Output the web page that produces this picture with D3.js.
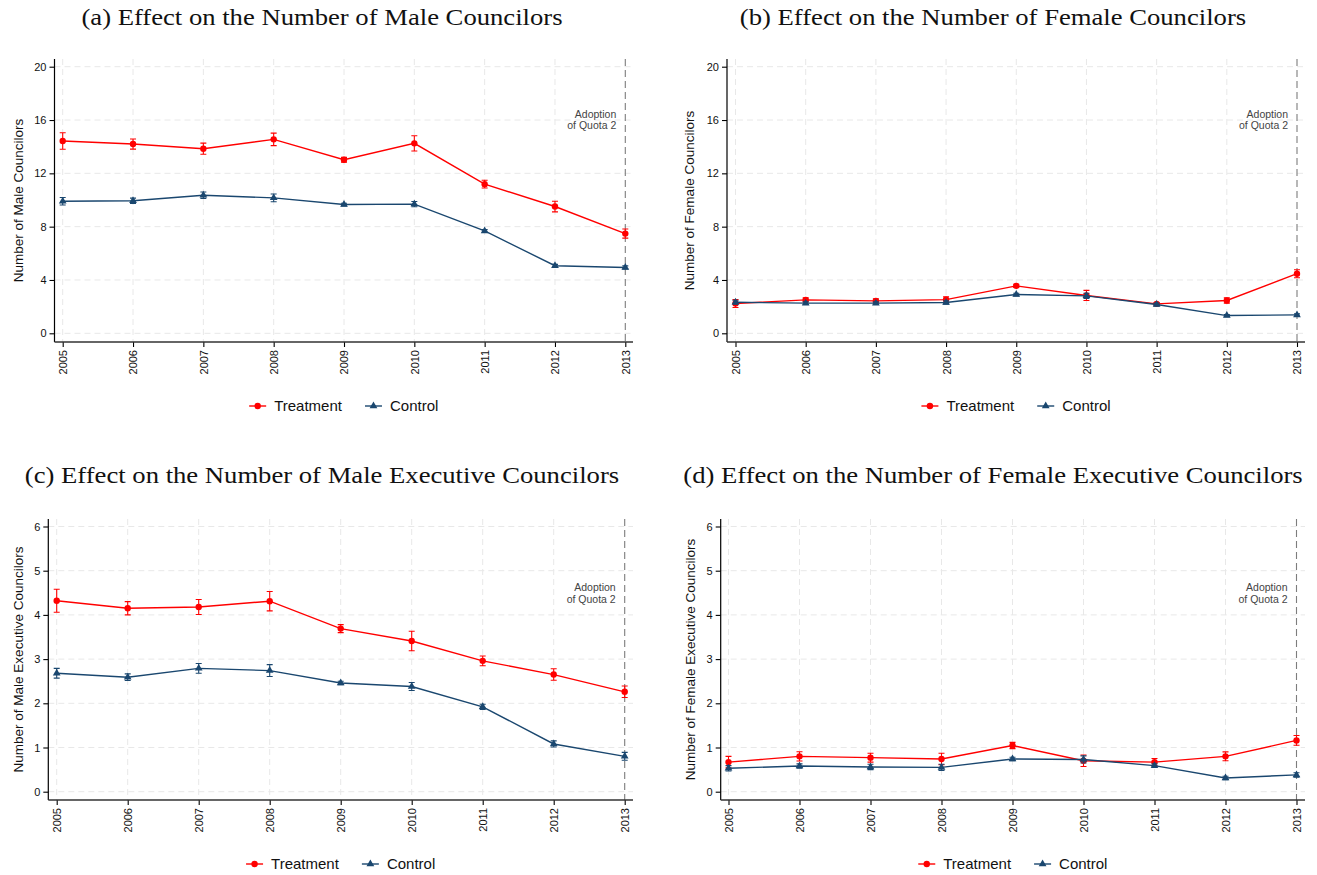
<!DOCTYPE html>
<html>
<head>
<meta charset="utf-8">
<script src="https://cdn.jsdelivr.net/npm/d3@7/dist/d3.min.js"></script>
<style>
  body { margin: 0; background: #ffffff; }
  svg { display: block; }
</style>
</head>
<body>
<svg id="chart" width="1317" height="875"></svg>
<script>
// ---- data -------------------------------------------------------------
const years = [2005, 2006, 2007, 2008, 2009, 2010, 2011, 2012, 2013];

// (a) male councilors: mean and half-width of the confidence interval
const maleTreat     = [14.43, 14.20, 13.85, 14.55, 13.02, 14.25, 11.19, 9.51, 7.48];
const maleTreatCI   = [0.62, 0.38, 0.42, 0.47, 0.18, 0.57, 0.29, 0.40, 0.34];
const maleControl   = [9.91, 9.94, 10.36, 10.16, 9.66, 9.69, 7.68, 5.07, 4.94];
const maleControlCI = [0.28, 0.20, 0.24, 0.29, 0.10, 0.20, 0.10, 0.10, 0.12];

// (b) female councilors
const femTreat      = [2.23, 2.51, 2.43, 2.53, 3.56, 2.84, 2.21, 2.46, 4.47];
const femTreatCI    = [0.30, 0.15, 0.15, 0.20, 0.12, 0.38, 0.10, 0.20, 0.30];
const femControl    = [2.33, 2.26, 2.26, 2.31, 2.91, 2.81, 2.16, 1.33, 1.38];
const femControlCI  = [0.15, 0.10, 0.10, 0.12, 0.10, 0.20, 0.10, 0.08, 0.08];

// (c) male executive councilors
const maleExecTreat     = [4.32, 4.15, 4.18, 4.31, 3.69, 3.41, 2.96, 2.65, 2.26];
const maleExecTreatCI   = [0.26, 0.15, 0.17, 0.22, 0.09, 0.22, 0.11, 0.13, 0.13];
const maleExecControl   = [2.68, 2.59, 2.79, 2.74, 2.46, 2.38, 1.92, 1.08, 0.80];
const maleExecControlCI = [0.11, 0.075, 0.11, 0.135, 0.04, 0.09, 0.06, 0.07, 0.09];

// (d) female executive councilors
const femExecTreat      = [0.67, 0.80, 0.77, 0.74, 1.045, 0.70, 0.67, 0.80, 1.16];
const femExecTreatCI    = [0.13, 0.105, 0.10, 0.13, 0.07, 0.13, 0.08, 0.10, 0.11];
const femExecControl    = [0.53, 0.58, 0.56, 0.55, 0.74, 0.73, 0.59, 0.31, 0.38];
const femExecControlCI  = [0.06, 0.05, 0.06, 0.07, 0.04, 0.08, 0.04, 0.04, 0.05];

const countTicks = [0, 4, 8, 12, 16, 20];
const execTicks  = [0, 1, 2, 3, 4, 5, 6];

const panelTitles = [
  "(a) Effect on the Number of Male Councilors",
  "(b) Effect on the Number of Female Councilors",
  "(c) Effect on the Number of Male Executive Councilors",
  "(d) Effect on the Number of Female Executive Councilors"
];
const axisTitles = [
  "Number of Male Councilors",
  "Number of Female Councilors",
  "Number of Male Executive Councilors",
  "Number of Female Executive Councilors"
];
const seriesNames = ["Treatment", "Control"];
const quotaYear = 2013;
const quotaNote = ["Adoption", "of Quota 2"];

// ---- styling ----------------------------------------------------------
const RED = "#ff0000";
const NAVY = "#1a476f";
const SANS = "'Liberation Sans', Arial, Helvetica, sans-serif";
const SERIF = "'Liberation Serif', 'Times New Roman', serif";

// layout of the four graph regions
const panels = [
  { title: panelTitles[0], ytitle: axisTitles[0], treat: maleTreat, treatCI: maleTreatCI,
    ctrl: maleControl, ctrlCI: maleControlCI, ticks: countTicks, ymax: 20, noteY: 16.16,
    axisX: 54.5, xr: [62.7, 625.3], right: 633, yr: [333.3, 66.7], top: 59, bottom: 342,
    titleX: 322, titleY: 25, ytitleX: 18, legendY: 406 },
  { title: panelTitles[1], ytitle: axisTitles[1], treat: femTreat, treatCI: femTreatCI,
    ctrl: femControl, ctrlCI: femControlCI, ticks: countTicks, ymax: 20, noteY: 16.16,
    axisX: 727, xr: [735.5, 1297], right: 1305, yr: [333.3, 66.7], top: 59, bottom: 342,
    titleX: 993, titleY: 25, ytitleX: 689, legendY: 406 },
  { title: panelTitles[2], ytitle: axisTitles[2], treat: maleExecTreat, treatCI: maleExecTreatCI,
    ctrl: maleExecControl, ctrlCI: maleExecControlCI, ticks: execTicks, ymax: 6, noteY: 4.53,
    axisX: 48.3, xr: [56.7, 624.7], right: 633, yr: [791.7, 526.5], top: 519, bottom: 800,
    titleX: 322, titleY: 483, ytitleX: 18, legendY: 864 },
  { title: panelTitles[3], ytitle: axisTitles[3], treat: femExecTreat, treatCI: femExecTreatCI,
    ctrl: femExecControl, ctrlCI: femExecControlCI, ticks: execTicks, ymax: 6, noteY: 4.53,
    axisX: 720.7, xr: [728.5, 1296.5], right: 1305, yr: [791.7, 526.5], top: 519, bottom: 800,
    titleX: 993, titleY: 483, ytitleX: 690, legendY: 864 }
];

const svg = d3.select("#chart");
svg.append("rect").attr("width", 1317).attr("height", 875).attr("fill", "#fff");

panels.forEach(p => {
  const g = svg.append("g");
  const x = d3.scaleLinear().domain([years[0], years[years.length - 1]]).range(p.xr);
  const y = d3.scaleLinear().domain([0, p.ymax]).range(p.yr);

  // title
  const t = g.append("text")
    .attr("x", p.titleX).attr("y", p.titleY)
    .attr("text-anchor", "middle")
    .attr("font-family", SERIF).attr("font-size", 24)
    .attr("fill", "#111")
    .text(p.title);
  const natural = t.node().getComputedTextLength();
  t.attr("textLength", natural * 1.11).attr("lengthAdjust", "spacingAndGlyphs");

  // grid lines
  g.append("g").selectAll("line").data(p.ticks).join("line")
    .attr("x1", p.axisX).attr("x2", p.right)
    .attr("y1", d => y(d)).attr("y2", d => y(d))
    .attr("stroke", "#e8e8e8").attr("stroke-width", 1).attr("stroke-dasharray", "6,4");
  g.append("g").selectAll("line").data(years.filter(v => v !== quotaYear)).join("line")
    .attr("x1", d => x(d)).attr("x2", d => x(d))
    .attr("y1", p.top).attr("y2", p.bottom)
    .attr("stroke", "#e8e8e8").attr("stroke-width", 1).attr("stroke-dasharray", "6,4");

  // quota reference line
  g.append("line")
    .attr("x1", x(quotaYear)).attr("x2", x(quotaYear))
    .attr("y1", p.top).attr("y2", p.bottom)
    .attr("stroke", "#7d7d7d").attr("stroke-width", 1.1).attr("stroke-dasharray", "7,4");
  const note = g.append("text")
    .attr("x", x(quotaYear) - 9).attr("y", y(p.noteY))
    .attr("text-anchor", "end")
    .attr("font-family", SANS).attr("font-size", 10.5)
    .attr("fill", "#444");
  note.selectAll("tspan").data(quotaNote).join("tspan")
    .attr("x", x(quotaYear) - 9)
    .attr("dy", (d, i) => i === 0 ? 0 : 11.5)
    .text(d => d);

  // y axis
  const yAxis = d3.axisLeft(y).tickValues(p.ticks).tickSize(5).tickPadding(3).tickFormat(d3.format("d"));
  const ya = g.append("g").attr("transform", `translate(${p.axisX},0)`).call(yAxis);
  ya.select(".domain").remove();
  ya.append("line").attr("x1", 0).attr("x2", 0).attr("y1", p.top).attr("y2", p.bottom)
    .attr("stroke", "#000").attr("stroke-width", 1.2);
  ya.selectAll(".tick line").attr("stroke", "#000").attr("stroke-width", 1.1);
  ya.selectAll(".tick text").attr("font-family", SANS).attr("font-size", 11).attr("fill", "#111");

  // x axis
  const xAxis = d3.axisBottom(x).tickValues(years).tickSize(5).tickFormat(d3.format("d"));
  const xa = g.append("g").attr("transform", `translate(0,${p.bottom})`).call(xAxis);
  xa.select(".domain").remove();
  xa.append("line").attr("x1", p.axisX).attr("x2", p.right).attr("y1", 0).attr("y2", 0)
    .attr("stroke", "#333").attr("stroke-width", 1.3);
  xa.selectAll(".tick line").attr("stroke", "#000").attr("stroke-width", 1.1);
  xa.selectAll(".tick text")
    .attr("font-family", SANS).attr("font-size", 11).attr("fill", "#111")
    .attr("text-anchor", "end")
    .attr("transform", "rotate(-90)")
    .attr("x", -8).attr("y", 0).attr("dy", "0.36em");

  // y axis title
  g.append("text")
    .attr("transform", `translate(${p.ytitleX},${(p.top + p.bottom) / 2}) rotate(-90)`)
    .attr("text-anchor", "middle").attr("dy", "0.36em")
    .attr("font-family", SANS).attr("font-size", 13.5).attr("fill", "#111")
    .text(p.ytitle);

  // series
  const series = [
    { vals: p.treat, ci: p.treatCI, color: RED, shape: "circle" },
    { vals: p.ctrl, ci: p.ctrlCI, color: NAVY, shape: "triangle" }
  ];
  const line = d3.line().x((d, i) => x(years[i])).y(d => y(d));
  series.forEach(s => {
    const sg = g.append("g");
    const pts = years.map((yr, i) => ({ yr, v: s.vals[i], e: s.ci[i] }));
    // confidence intervals
    sg.selectAll("path.ci").data(pts).join("path").attr("class", "ci")
      .attr("d", d => {
        const cx = x(d.yr), lo = y(d.v - d.e), hi = y(d.v + d.e);
        return `M${cx - 3},${hi}H${cx + 3}M${cx},${hi}V${lo}M${cx - 3},${lo}H${cx + 3}`;
      })
      .attr("fill", "none").attr("stroke", s.color).attr("stroke-width", 1.1);
    sg.append("path").datum(s.vals).attr("d", line)
      .attr("fill", "none").attr("stroke", s.color).attr("stroke-width", 1.4);
    if (s.shape === "circle") {
      sg.selectAll("circle").data(pts).join("circle")
        .attr("cx", d => x(d.yr)).attr("cy", d => y(d.v)).attr("r", 3.2)
        .attr("fill", s.color);
    } else {
      const tri = d3.symbol().type(d3.symbolTriangle).size(26);
      sg.selectAll("path.mk").data(pts).join("path").attr("class", "mk")
        .attr("transform", d => `translate(${x(d.yr)},${y(d.v)})`)
        .attr("d", tri).attr("fill", s.color);
    }
  });

  // legend, centred under the plot region
  const lg = g.append("g");
  const items = [
    { name: seriesNames[0], color: RED, shape: "circle" },
    { name: seriesNames[1], color: NAVY, shape: "triangle" }
  ];
  let cx = 0;
  items.forEach((it, i) => {
    const ig = lg.append("g").attr("transform", `translate(${cx},0)`);
    ig.append("line").attr("x1", 0).attr("x2", 17).attr("y1", 0).attr("y2", 0)
      .attr("stroke", it.color).attr("stroke-width", 1.4);
    if (it.shape === "circle") {
      ig.append("circle").attr("cx", 8.5).attr("cy", 0).attr("r", 3.2).attr("fill", it.color);
    } else {
      ig.append("path").attr("transform", "translate(8.5,0)")
        .attr("d", d3.symbol().type(d3.symbolTriangle).size(26)).attr("fill", it.color);
    }
    const tx = ig.append("text").attr("x", 25).attr("y", 0).attr("dy", "0.36em")
      .attr("font-family", SANS).attr("font-size", 15).attr("fill", "#111")
      .text(it.name);
    cx += 25 + tx.node().getComputedTextLength() + (i === 0 ? 23 : 0);
  });
  const total = cx;
  const centre = (p.axisX + p.right) / 2;
  lg.attr("transform", `translate(${centre - total / 2},${p.legendY})`);
});
</script>
</body>
</html>
